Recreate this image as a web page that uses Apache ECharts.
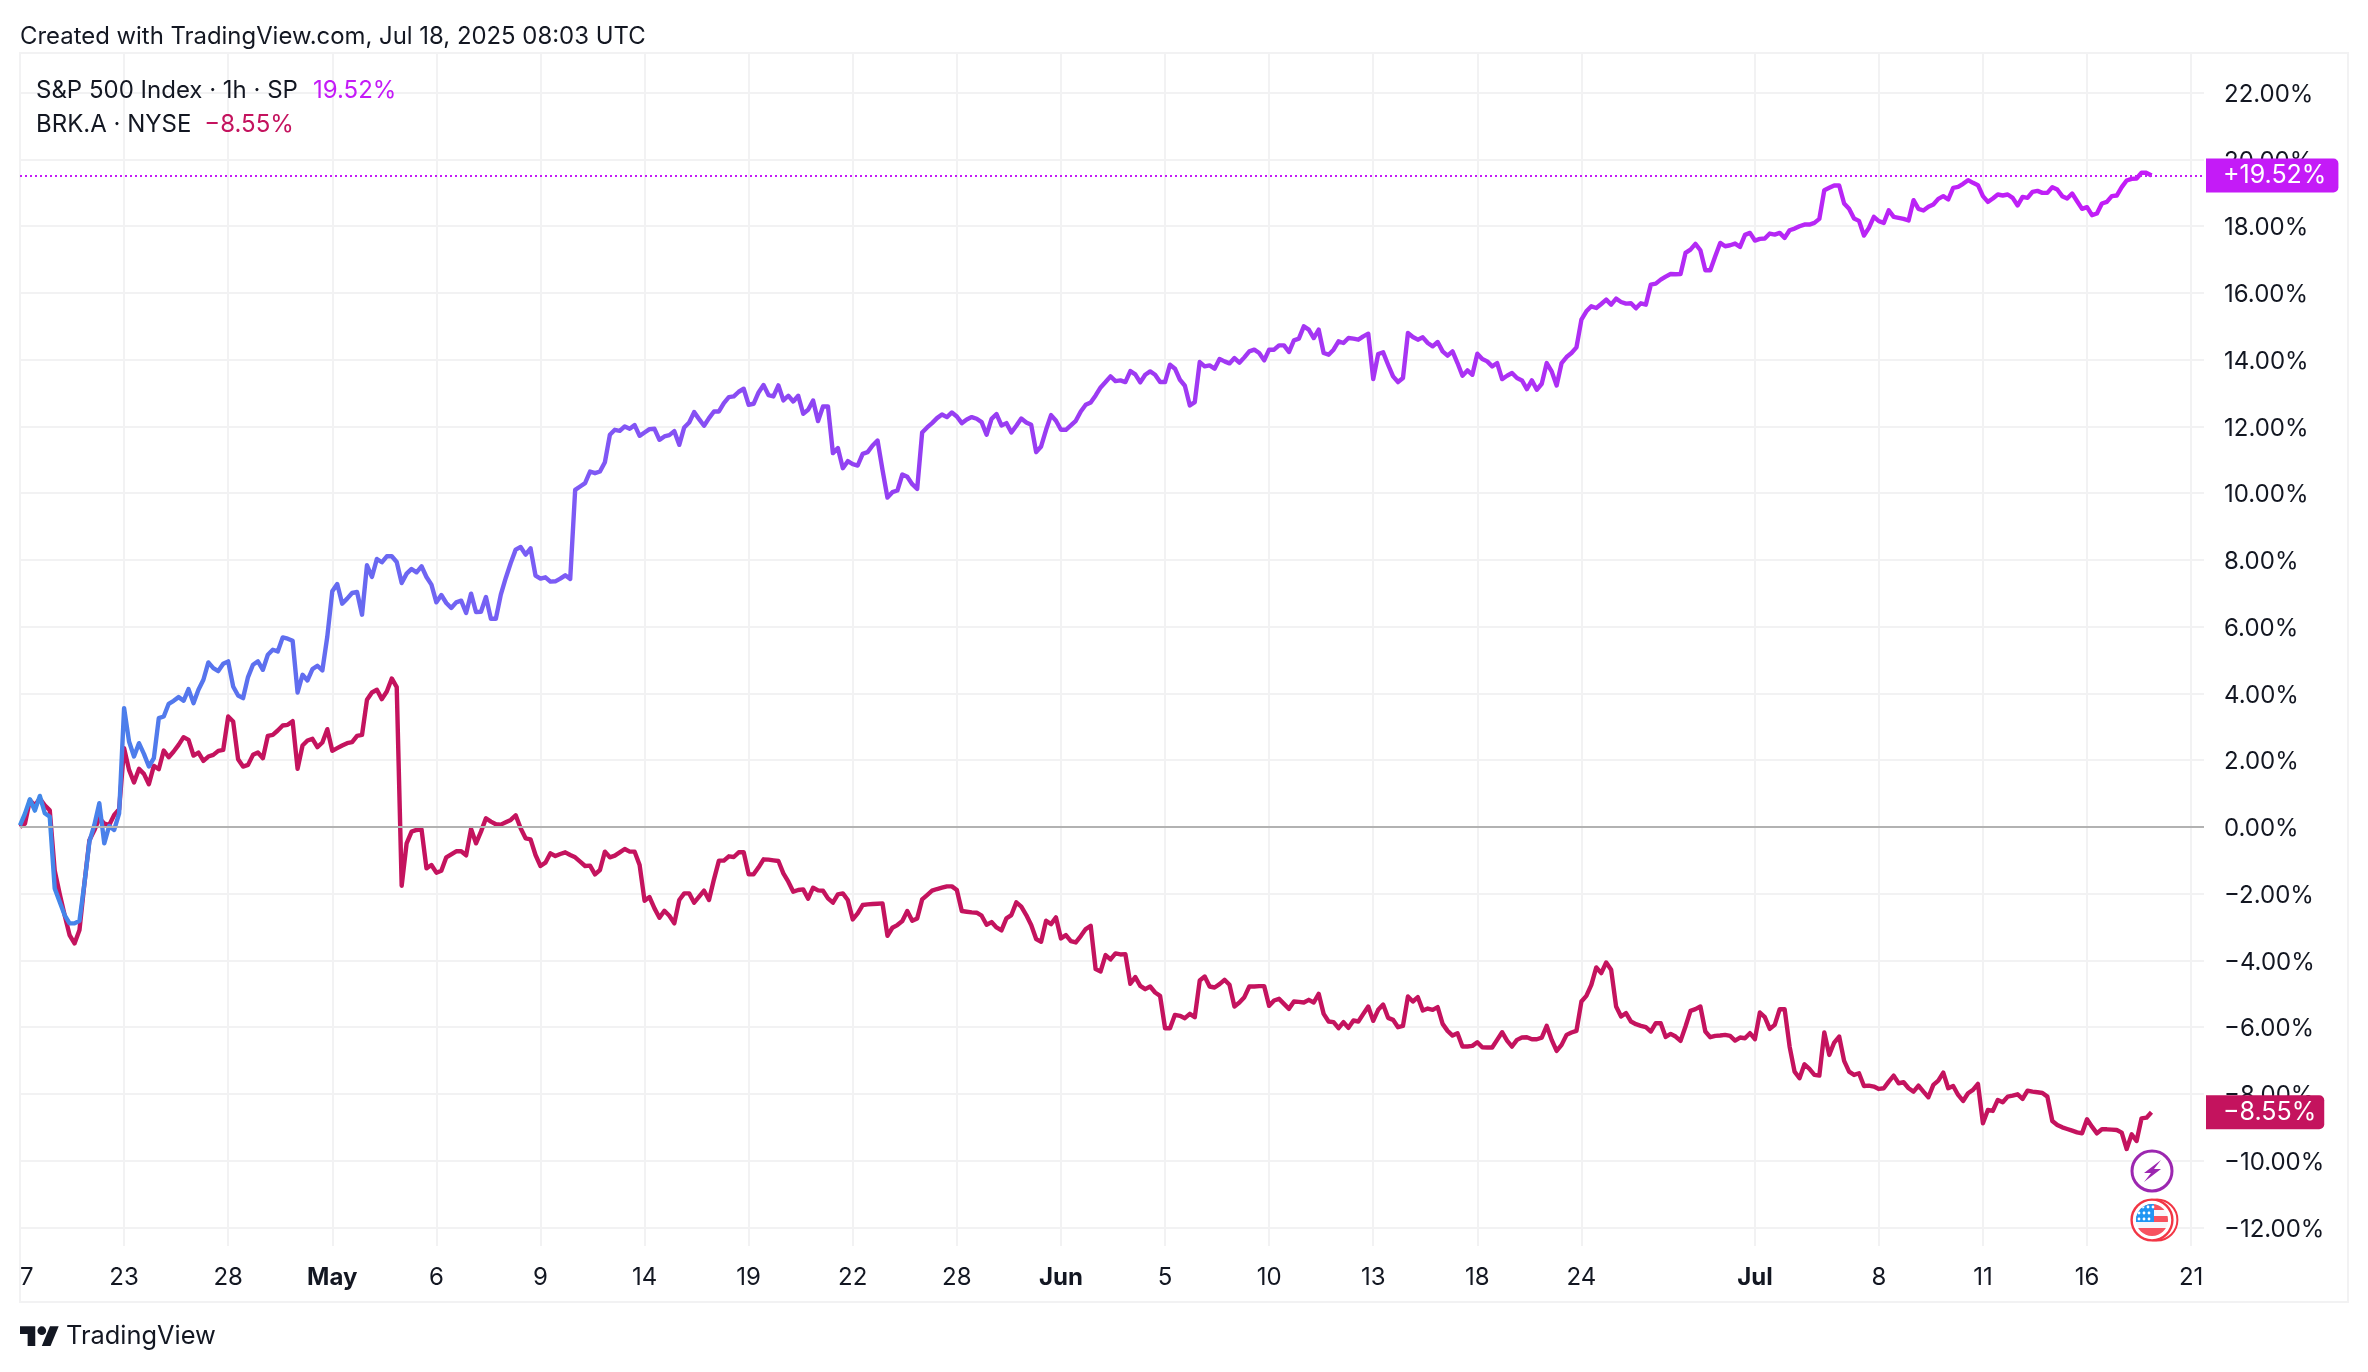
<!DOCTYPE html>
<html>
<head>
<meta charset="utf-8">
<title>S&amp;P 500 vs BRK.A</title>
<script src="https://cdn.jsdelivr.net/npm/echarts@6/dist/echarts.min.js"></script>
<style>
  html, body { margin: 0; padding: 0; background: #fff; }
  #chart { width: 2368px; height: 1372px; }
</style>
</head>
<body>
<div id="chart"></div>
<script>
// hourly % change per bar, one row per gridline step (21 bars = 3 sessions)
const spValues = [
  0.05, 0.4, 0.83, 0.49, 0.93, 0.41, 0.31, -1.84, -2.24, -2.64, -2.89, -2.89, -2.81, -1.69, -0.44, 0.06, 0.71, -0.49, 0.03, -0.09, 0.41,
  3.56, 2.56, 2.11, 2.51, 2.19, 1.81, 2.06, 3.26, 3.31, 3.69, 3.78, 3.89, 3.78, 4.13, 3.71, 4.11, 4.41, 4.93, 4.76, 4.67, 4.89,
  4.96, 4.21, 3.94, 3.86, 4.49, 4.86, 4.96, 4.71, 5.16, 5.31, 5.26, 5.68, 5.64, 5.58, 4.03, 4.56, 4.39, 4.73, 4.83, 4.69, 5.71,
  7.06, 7.28, 6.69, 6.84, 7.01, 7.04, 6.36, 7.84, 7.49, 8.03, 7.93, 8.11, 8.11, 7.94, 7.31, 7.59, 7.73, 7.63, 7.81, 7.49, 7.26,
  6.73, 6.95, 6.71, 6.56, 6.73, 6.78, 6.41, 6.99, 6.44, 6.45, 6.89, 6.24, 6.24, 6.96, 7.46, 7.91, 8.31, 8.39, 8.16, 8.35, 7.53,
  7.44, 7.48, 7.35, 7.36, 7.44, 7.54, 7.43, 10.1, 10.2, 10.3, 10.65, 10.6, 10.65, 10.93, 11.75, 11.9, 11.87, 12.0, 11.93, 12.04, 11.72,
  11.82, 11.92, 11.93, 11.6, 11.7, 11.74, 11.86, 11.45, 11.97, 12.12, 12.43, 12.22, 12.02, 12.25, 12.45, 12.45, 12.7, 12.88, 12.9, 13.04, 13.13,
  12.65, 12.68, 13.02, 13.24, 12.94, 12.9, 13.23, 12.78, 12.92, 12.75, 12.92, 12.38, 12.5, 12.78, 12.16, 12.6, 12.6, 11.2, 11.35, 10.75, 10.96,
  10.87, 10.83, 11.18, 11.23, 11.43, 11.58, 10.7, 9.87, 10.03, 10.08, 10.56, 10.49, 10.27, 10.13, 11.82, 11.97, 12.1, 12.25, 12.36, 12.28, 12.42,
  12.3, 12.1, 12.21, 12.28, 12.23, 12.13, 11.75, 12.23, 12.37, 12.03, 12.1, 11.82, 12.02, 12.24, 12.12, 12.05, 11.23, 11.4, 11.9, 12.34, 12.17,
  11.9, 11.9, 12.03, 12.17, 12.45, 12.65, 12.72, 12.93, 13.17, 13.33, 13.5, 13.36, 13.38, 13.33, 13.66, 13.56, 13.32, 13.55, 13.65, 13.55, 13.33,
  13.33, 13.85, 13.73, 13.4, 13.22, 12.63, 12.73, 13.93, 13.8, 13.83, 13.73, 14.02, 13.95, 13.89, 14.05, 13.91, 14.07, 14.25, 14.3, 14.2, 13.98,
  14.3, 14.3, 14.43, 14.43, 14.23, 14.58, 14.63, 15.0, 14.9, 14.65, 14.9, 14.2, 14.15, 14.3, 14.55, 14.5, 14.65, 14.63, 14.6, 14.7, 14.78,
  13.42, 14.17, 14.22, 13.85, 13.5, 13.33, 13.45, 14.8, 14.68, 14.6, 14.67, 14.5, 14.4, 14.53, 14.25, 14.12, 14.25, 13.9, 13.52, 13.68, 13.55,
  14.18, 14.02, 13.95, 13.8, 13.9, 13.42, 13.52, 13.6, 13.45, 13.38, 13.12, 13.38, 13.1, 13.28, 13.9, 13.65, 13.23, 13.9, 14.08, 14.2, 14.37,
  15.2, 15.45, 15.6, 15.55, 15.67, 15.8, 15.65, 15.83, 15.73, 15.68, 15.69, 15.54, 15.69, 15.65, 16.25, 16.28, 16.4, 16.49, 16.57, 16.56, 16.57,
  17.2, 17.3, 17.47, 17.28, 16.68, 16.68, 17.1, 17.5, 17.4, 17.43, 17.48, 17.38, 17.74, 17.8,
  17.57, 17.62, 17.63, 17.78, 17.75, 17.8, 17.65, 17.88, 17.93, 18.0, 18.05, 18.05, 18.1, 18.22, 19.08, 19.15, 19.22, 19.22, 18.68, 18.52, 18.23, 18.16, 17.72, 17.95, 18.28,
  18.15, 18.1, 18.48, 18.28, 18.25, 18.22, 18.17, 18.78, 18.52, 18.47, 18.58, 18.65, 18.82, 18.9, 18.8, 19.15, 19.18, 19.27, 19.38, 19.3, 19.23,
  18.9, 18.73, 18.83, 18.95, 18.92, 18.95, 18.85, 18.62, 18.88, 18.85, 19.03, 19.06, 19.0, 19.0, 19.17, 19.1, 18.9, 18.83, 18.98, 18.75, 18.52,
  18.57, 18.33, 18.38, 18.68, 18.73, 18.9, 18.92, 19.17, 19.37, 19.42, 19.43, 19.6, 19.6, 19.52
];

const brkValues = [
  0.0, 0.1, 0.8, 0.65, 0.85, 0.65, 0.5, -1.3, -2.0, -2.64, -3.24, -3.49, -3.09, -1.69, -0.4, -0.1, 0.26, 0.1, 0.06, 0.36, 0.53,
  2.36, 1.71, 1.33, 1.74, 1.59, 1.28, 1.83, 1.73, 2.29, 2.09, 2.26, 2.46, 2.69, 2.61, 2.14, 2.23, 1.98, 2.11, 2.16, 2.28, 2.31,
  3.31, 3.16, 2.03, 1.81, 1.86, 2.16, 2.23, 2.06, 2.73, 2.76, 2.89, 3.04, 3.06, 3.17, 1.74, 2.44, 2.59, 2.64, 2.39, 2.53, 2.93,
  2.28, 2.36, 2.44, 2.51, 2.54, 2.73, 2.76, 3.81, 4.03, 4.11, 3.83, 4.06, 4.45, 4.19, -1.76, -0.49, -0.14, -0.09, -0.07, -1.24, -1.14,
  -1.37, -1.31, -0.91, -0.82, -0.73, -0.73, -0.85, -0.06, -0.49, -0.14, 0.26, 0.16, 0.08, 0.07, 0.14, 0.21, 0.35, -0.04, -0.34, -0.37, -0.84,
  -1.17, -1.07, -0.79, -0.87, -0.81, -0.76, -0.84, -0.91, -1.04, -1.17, -1.16, -1.42, -1.29, -0.74, -0.91, -0.86, -0.76, -0.66, -0.74, -0.74, -1.14,
  -2.21, -2.1, -2.44, -2.72, -2.51, -2.66, -2.89, -2.19, -1.99, -1.99, -2.27, -2.09, -1.91, -2.19, -1.57, -1.01, -1.01, -0.88, -0.9, -0.76, -0.76,
  -1.42, -1.42, -1.21, -0.97, -0.98, -1.0, -1.02, -1.39, -1.64, -1.94, -1.89, -1.87, -2.15, -1.82, -1.9, -1.91, -2.14, -2.27, -2.02, -1.99, -2.19,
  -2.77, -2.59, -2.34, -2.32, -2.31, -2.3, -2.29, -3.26, -3.02, -2.94, -2.82, -2.52, -2.81, -2.74, -2.17, -2.04, -1.91, -1.86, -1.82, -1.78, -1.78,
  -1.89, -2.52, -2.54, -2.56, -2.57, -2.66, -2.93, -2.85, -3.01, -3.1, -2.74, -2.64, -2.26, -2.39, -2.64, -2.94, -3.36, -3.44, -2.81, -2.91, -2.71,
  -3.34, -3.24, -3.42, -3.46, -3.27, -3.06, -2.96, -4.26, -4.33, -3.84, -3.97, -3.79, -3.82, -3.81, -4.7, -4.5, -4.76, -4.86, -4.78, -4.96, -5.06,
  -6.03, -6.03, -5.63, -5.66, -5.73, -5.6, -5.7, -4.6, -4.48, -4.78, -4.81, -4.71, -4.58, -4.73, -5.38, -5.26, -5.1, -4.78, -4.78, -4.77, -4.77,
  -5.36, -5.2, -5.15, -5.3, -5.45, -5.23, -5.24, -5.26, -5.18, -5.26, -5.0, -5.6, -5.83, -5.85, -6.03, -5.85, -6.02, -5.8, -5.83, -5.6, -5.38,
  -5.81, -5.48, -5.32, -5.72, -5.78, -6.0, -5.96, -5.08, -5.23, -5.1, -5.5, -5.44, -5.48, -5.4, -5.9, -6.11, -6.25, -6.18, -6.58, -6.58, -6.56,
  -6.45, -6.6, -6.61, -6.61, -6.38, -6.15, -6.4, -6.58, -6.38, -6.31, -6.3, -6.36, -6.36, -6.31, -5.96, -6.38, -6.71, -6.53, -6.23, -6.16, -6.11,
  -5.23, -5.06, -4.73, -4.21, -4.38, -4.06, -4.28, -5.38, -5.68, -5.58, -5.83, -5.91, -5.96, -6.0, -6.13, -5.88, -5.88, -6.29, -6.2, -6.28, -6.41,
  -5.98, -5.51, -5.46, -5.38, -6.13, -6.3, -6.26, -6.25, -6.23, -6.26, -6.4, -6.31, -6.33, -6.18,
  -6.36, -5.56, -5.7, -6.05, -5.93, -5.46, -5.46, -6.58, -7.33, -7.53, -7.11, -7.25, -7.43, -7.45, -6.16, -6.83, -6.46, -6.28, -7.01, -7.33, -7.43, -7.38, -7.76, -7.75, -7.78,
  -7.85, -7.83, -7.63, -7.45, -7.68, -7.65, -7.83, -7.93, -7.75, -7.93, -8.1, -7.73, -7.6, -7.36, -7.83, -7.76, -8.03, -8.21, -7.98, -7.88, -7.7,
  -8.88, -8.48, -8.51, -8.18, -8.25, -8.08, -8.05, -8.01, -8.15, -7.9, -7.93, -7.95, -7.97, -8.08, -8.81, -8.93, -9.0, -9.05, -9.1, -9.15, -9.18,
  -8.76, -8.98, -9.18, -9.06, -9.06, -9.07, -9.08, -9.16, -9.65, -9.21, -9.41, -8.73, -8.71, -8.55
];

const yTicks = [-12, -10, -8, -6, -4, -2, 0, 2, 4, 6, 8, 10, 12, 14, 16, 18, 20, 22];
const xTickBars = [0, 21, 42, 63, 84, 105, 126, 147, 168, 189, 210, 231, 252, 273, 294, 315, 350, 375, 396, 417, 438];
const xTickLabels = ["7", "23", "28", "May", "6", "9", "14", "19", "22", "28", "Jun", "5", "10", "13", "18", "24", "Jul", "8", "11", "16", "21"];
const monthLabels = ["May", "Jun", "Jul"];

const spLast = 19.52;
const brkLast = -8.55;

const spColor = "#c41bf7";
const brkColor = "#c4135e";
const inkColor = "#131722";
const gridColor = "#f2f2f3";
const fontName = "Inter";

function percentText(value) {
  return value.toFixed(2).replace("-", "\u2212") + "%";
}

function withBars(values) {
  return values.map((v, i) => [i, v]);
}

const boltIcon = `<svg xmlns="http://www.w3.org/2000/svg" width="44" height="44" viewBox="0 0 44 44">
<circle cx="22" cy="22" r="20" fill="#fff" stroke="#9c27b0" stroke-width="3"/>
<path d="M31 11 L14 24 L21 24 L14 33 L31 20 L24 20 Z" fill="#9c27b0"/></svg>`;

const flagIcon = `<svg xmlns="http://www.w3.org/2000/svg" width="50" height="44" viewBox="0 0 50 44">
<defs><clipPath id="c"><circle cx="22" cy="22" r="16"/></clipPath></defs>
<circle cx="27" cy="22" r="20.4" fill="#fff" stroke="#f23645" stroke-width="2"/>
<circle cx="22" cy="22" r="20.4" fill="#fff" stroke="#f23645" stroke-width="2.4"/>
<g clip-path="url(#c)"><rect x="0" y="0" width="50" height="44" fill="#f7f7fa"/>
<rect x="0" y="6" width="44" height="6" fill="#f7525f"/><rect x="0" y="18" width="44" height="6" fill="#f7525f"/><rect x="0" y="30" width="44" height="8" fill="#f7525f"/>
<rect x="4" y="4" width="20" height="20" fill="#2196f3"/>
<g fill="#fff"><circle cx="13" cy="9" r="1.4"/><circle cx="18" cy="9" r="1.4"/><circle cx="23" cy="9" r="1.4"/>
<circle cx="9" cy="15" r="1.4"/><circle cx="14" cy="15" r="1.4"/><circle cx="19" cy="15" r="1.4"/>
<circle cx="9" cy="21" r="1.4"/><circle cx="14" cy="21" r="1.4"/><circle cx="19" cy="21" r="1.4"/></g></g></svg>`;

function svgUri(svg) {
  return "data:image/svg+xml;charset=utf-8," + encodeURIComponent(svg);
}

const chart = echarts.init(document.getElementById("chart"));

function lastValueTag(text, color, rightPad) {
  return {
    show: true,
    position: "end",
    distance: 2,
    formatter: text,
    color: "#fff",
    fontFamily: fontName,
    fontSize: 25,
    backgroundColor: color,
    borderRadius: [0, 5, 5, 0],
    padding: [6, rightPad, 4, 17],
    lineHeight: 24,
  };
}

function legendLine(name, valueText, valueColor, top, gap) {
  return {
    text: `{a|${name}}{v|${valueText}}`,
    left: 36,
    top: top,
    padding: 0,
    textStyle: {
      fontWeight: 400,
      rich: {
        a: { fontFamily: fontName, fontSize: 24, fontWeight: 400, color: inkColor },
        v: { fontFamily: fontName, fontSize: 24, fontWeight: 400, color: valueColor, padding: [0, 0, 0, gap] },
      },
    },
  };
}

chart.setOption({
  animation: false,
  backgroundColor: "#fff",
  textStyle: { fontFamily: fontName },
  title: [
    {
      text: "Created with TradingView.com, Jul 18, 2025 08:03 UTC",
      left: 20,
      top: 25,
      padding: 0,
      textStyle: { fontFamily: fontName, fontSize: 23.9, fontWeight: 400, color: inkColor },
    },
    legendLine("S&P 500 Index · 1h · SP", spLast + "%", spColor, 79, 15),
    legendLine("BRK.A · NYSE", percentText(brkLast), brkColor, 113, 13),
    {
      text: "TradingView",
      left: 66,
      top: 1324,
      padding: 0,
      textStyle: { fontFamily: fontName, fontSize: 25.4, fontWeight: 400, color: inkColor },
    },
  ],
  grid: { left: 20, top: 53, width: 2184, height: 1193 },
  xAxis: {
    type: "value",
    min: 0,
    max: 440.6,
    axisLine: { show: false },
    axisTick: { show: false, customValues: xTickBars },
    splitLine: { show: true, lineStyle: { color: gridColor, width: 2 } },
    axisLabel: {
      customValues: xTickBars,
      margin: 20,
      fontFamily: fontName,
      fontSize: 24,
      color: inkColor,
      alignMinLabel: "left",
      formatter: (value) => {
        const label = xTickLabels[xTickBars.indexOf(value)];
        return monthLabels.includes(label) ? `{m|${label}}` : label;
      },
      rich: {
        m: { fontFamily: fontName, fontSize: 24, fontWeight: 700, color: inkColor },
      },
    },
  },
  yAxis: {
    type: "value",
    position: "right",
    min: -12.556,
    max: 23.19,
    axisLine: { show: false },
    axisTick: { show: false, customValues: yTicks },
    splitLine: { show: true, lineStyle: { color: gridColor, width: 2 } },
    axisLabel: {
      customValues: yTicks,
      margin: 20,
      align: "left",
      fontFamily: fontName,
      fontSize: 24,
      color: inkColor,
      formatter: (value) => `{t|${percentText(value)}}`,
      rich: {
        t: { fontFamily: fontName, fontSize: 24, color: inkColor, padding: [4, 0, 0, 0] },
      },
    },
  },
  series: [
    {
      name: "BRK.A",
      type: "line",
      data: withBars(brkValues),
      showSymbol: false,
      silent: true,
      lineStyle: { color: brkColor, width: 4.4, join: "round" },
      markLine: {
        silent: true,
        symbol: "none",
        animation: false,
        data: [
          { yAxis: 0, lineStyle: { color: "#b2b2b2", width: 2, type: "solid" }, label: { show: false } },
          { yAxis: brkLast, lineStyle: { color: "rgba(0,0,0,0)", width: 1 }, label: lastValueTag(percentText(brkLast), brkColor, 8) },
        ],
      },
    },
    {
      name: "S&P 500 Index",
      type: "line",
      data: withBars(spValues),
      showSymbol: false,
      silent: true,
      lineStyle: {
        width: 4.4,
        join: "round",
        color: {
          type: "linear", x: 0, y: 0, x2: 1, y2: 0,
          colorStops: [
            { offset: 0, color: "#3f8ae8" },
            { offset: 0.1, color: "#5a72ee" },
            { offset: 0.25, color: "#7c5cf5" },
            { offset: 0.4, color: "#9340f2" },
            { offset: 0.65, color: "#a834f3" },
            { offset: 1, color: spColor },
          ],
        },
      },
      markLine: {
        silent: true,
        symbol: "none",
        animation: false,
        data: [
          {
            yAxis: spLast,
            lineStyle: { color: spColor, width: 2, type: [2, 3] },
            label: lastValueTag("+" + percentText(spLast), spColor, 12),
          },
        ],
      },
    },
  ],
  graphic: [
    {
      type: "rect",
      silent: true,
      z: 0,
      shape: { x: 20, y: 53, width: 2328, height: 1249 },
      style: { fill: "none", stroke: gridColor, lineWidth: 2 },
    },
    // TradingView mark: T, dot, slash
    {
      type: "group",
      silent: true,
      x: 20,
      y: 1322,
      scaleX: 1.09,
      scaleY: 1.09,
      children: [
        { type: "polygon", shape: { points: [[0, 4], [14, 4], [14, 22], [7, 22], [7, 11], [0, 11]] }, style: { fill: inkColor } },
        { type: "circle", shape: { cx: 20, cy: 8, r: 4 }, style: { fill: inkColor } },
        { type: "polygon", shape: { points: [[27.5, 4], [35.5, 4], [28, 22], [20, 22]] }, style: { fill: inkColor } },
      ],
    },
    { type: "image", silent: true, z: 10, style: { image: svgUri(boltIcon), x: 2130, y: 1149, width: 44, height: 44 } },
    { type: "image", silent: true, z: 10, style: { image: svgUri(flagIcon), x: 2130, y: 1198, width: 50, height: 44 } },
  ],
});
</script>
</body>
</html>
